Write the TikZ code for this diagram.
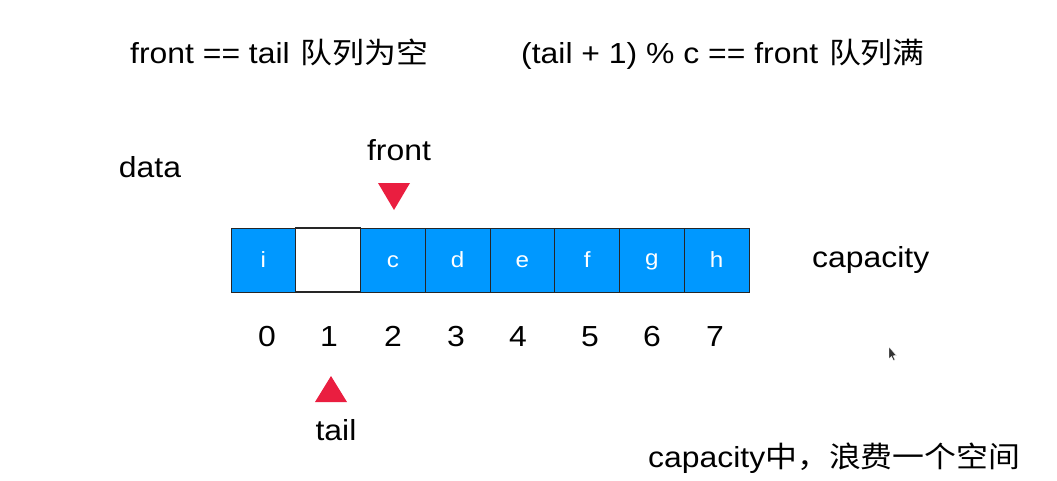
\documentclass[tikz,border=0pt]{standalone}
\usepackage{fontspec}
\setmainfont{Liberation Sans}[FakeStretch=1.1]
\newfontfamily\cjk{Noto Sans CJK SC}[FakeStretch=1.1]
\definecolor{cellblue}{RGB}{0,152,255}
\definecolor{ptrred}{RGB}{234,30,64}
\begin{document}
\begin{tikzpicture}[x=1pt,y=-1pt,
  lbl/.style={inner sep=0pt,font=\fontsize{29}{29}\selectfont},
  cellbox/.style={draw=black!85,line width=0.8pt,fill=cellblue,text=white,minimum width=64.75pt,minimum height=64pt,inner sep=0pt,font=\fontsize{22}{22}\selectfont},
  emptybox/.style={cellbox,fill=white,line width=1.2pt},
  ptr/.style={fill=ptrred,draw=none}]
\useasboundingbox[fill=white] (0,0) rectangle (1057,480);
% headings
\node[lbl,anchor=base west] (h1) at (130,63) {front == tail\hspace{2pt} {\cjk 队列为空}};
\node[lbl,anchor=base west] (h2) at (521,63) {(tail + 1) \% c == front\hspace{2pt} {\cjk 队列满}};
% labels
\node[lbl,anchor=base] (data) at (150,177) {data};
\node[lbl,anchor=base] (frontlbl) at (399,160) {front};
\node[lbl,anchor=base west] (cap) at (812,267) {capacity};
% cells
\foreach \i/\t in {0/i,2/c,3/d,4/e,5/f,6/g,7/h}{
  \node[cellbox] (c\i) at ({231+64.75*\i+32.375},260) {\vphantom{dh}\t};
}
\node[emptybox] (c1) at ({231+64.75+32.375},260) {};
% indices
\foreach \i/\xx in {0/267,1/329,2/393,3/456,4/518,5/590,6/652,7/715}{
  \node[lbl,anchor=base] (n\i) at (\xx,346) {\i};
}
% pointers
\path[ptr] (378,183) -- (410,183) -- (394,210) -- cycle;
\path[ptr] (315,402) -- (347,402) -- (331,376) -- cycle;
\node[lbl,anchor=base] (taillbl) at (336,440) {tail};
% bottom note
\node[lbl,anchor=base west] (note) at (648,467) {capacity{\cjk 中，浪费一个空间}};
% cursor
\path[fill=black!80,draw=white,line width=0.4pt] (889,347) -- (889,359) -- (891.5,356.5) -- (893.5,360.5) -- (895,359.8) -- (893,355.8) -- (896.5,355.5) -- cycle;
\end{tikzpicture}
\end{document}
